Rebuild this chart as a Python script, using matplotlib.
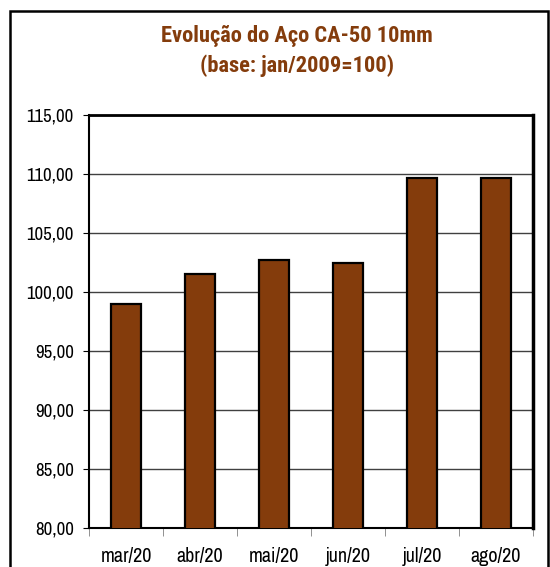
import matplotlib
matplotlib.use("Agg")
import matplotlib.pyplot as plt
from matplotlib.patches import Rectangle
from matplotlib.ticker import FixedLocator

categories = ["mar/20", "abr/20", "mai/20", "jun/20", "jul/20", "ago/20"]
values = [99.0, 101.5, 102.7, 102.5, 109.7, 109.7]
yticks = [80, 85, 90, 95, 100, 105, 110, 115]
title = "Evolução do Aço CA-50 10mm\n(base: jan/2009=100)"

fam = ["Archivo Narrow", "Liberation Sans", "DejaVu Sans"]
plt.rcParams["font.family"] = fam
title_fam = ["Roboto Condensed", "Asap Condensed", "Liberation Sans", "DejaVu Sans"]

brown = "#843C0C"
W, H = 550, 567
fig = plt.figure(figsize=(W / 100, H / 100), dpi=100)
ax = fig.add_axes([89 / W, 1 - 528 / H, (533 - 89) / W, (528 - 115) / H])

x = list(range(len(categories)))
ax.bar(x, values, width=0.41, color=brown, edgecolor="black", linewidth=1.6, zorder=3)
ax.set_xlim(-0.5, len(categories) - 0.5)
ax.set_ylim(80, 115)
ax.set_yticks(yticks)
ax.set_yticklabels([f"{v:.2f}".replace(".", ",") for v in yticks], fontsize=13.5)
ax.yaxis.grid(True, color="#404040", linewidth=1.0, zorder=0)
ax.set_xticks(x)
ax.set_xticklabels(categories, fontsize=14.5)
ax.tick_params(axis="x", length=0, pad=14)
ax.xaxis.set_minor_locator(FixedLocator([i + 0.5 for i in range(-1, len(categories))]))
ax.tick_params(axis="x", which="minor", length=6, color="#808080", direction="out")
ax.tick_params(axis="y", length=4, direction="out", pad=7)
for s in ["left", "bottom"]:
    ax.spines[s].set_linewidth(1.5)
ax.spines["top"].set_linewidth(2.0)
ax.spines["right"].set_linewidth(2.5)

fig.text(297 / W, 1 - 51 / H, title, ha="center", va="center", family=title_fam,
         fontsize=16.2, fontweight="bold", color=brown, linespacing=1.42)

fig.patches.append(Rectangle((10 / W, -0.05), (548 - 10) / W, 1 - 11 / H + 0.05,
                             transform=fig.transFigure, fill=False,
                             edgecolor="black", linewidth=1.8))

fig.savefig("out.png", dpi=100, facecolor="white")
